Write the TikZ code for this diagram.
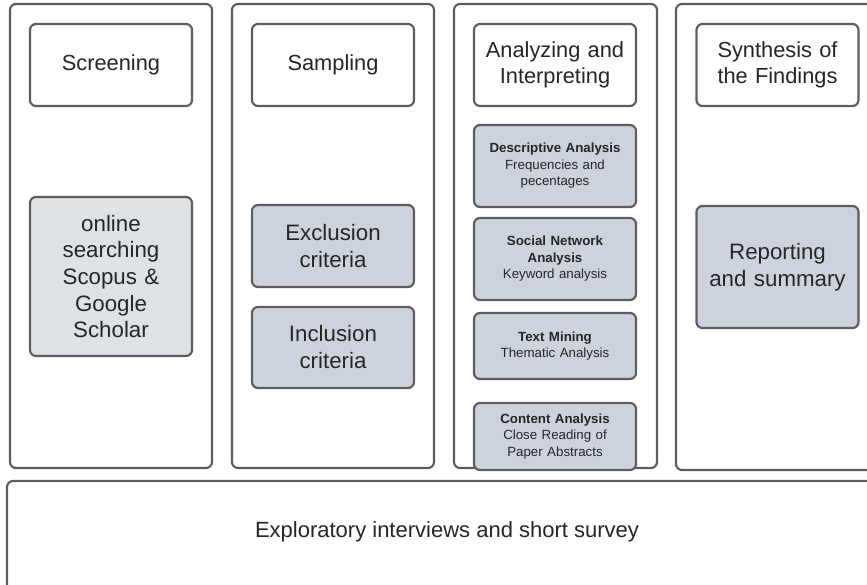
\documentclass[tikz,border=0pt]{standalone}
\usepackage{fontspec}
\setmainfont{Liberation Sans}
\definecolor{edgegray}{HTML}{5E5E5E}
\definecolor{taskgray}{HTML}{CDD3DC}
\definecolor{searchgray}{HTML}{DEE1E6}
\tikzset{
  panel/.style={draw=edgegray, line width=2.2pt, rounded corners=6pt,
    fill=white, inner sep=0pt},
  stage/.style={panel, minimum width=162pt, minimum height=82pt,
    text width=158pt, align=center, font=\fontsize{21.8}{26}\selectfont,
    text=black!85},
  task/.style={stage, fill=taskgray, font=\fontsize{22.3}{27}\selectfont},
  method/.style={stage, fill=taskgray, font=\fontsize{13.3}{16.5}\selectfont}
}
\begin{document}
\begin{tikzpicture}[yscale=-1, x=1pt, y=1pt]
    \useasboundingbox (0,0) rectangle (867,585);
    \clip (0,0) rectangle (867,585);

    % the four columns and the bottom band
    \node[panel, minimum width=202pt, minimum height=464pt] (colscreen) at (111,236) {};
    \node[panel, minimum width=202pt, minimum height=464pt] (colsample) at (333,236) {};
    \node[panel, minimum width=203pt, minimum height=464pt] (colanalyze) at (555.5,236) {};
    \node[panel, minimum width=202pt, minimum height=466pt] (colsynth) at (777,237) {};
    \node[panel, minimum width=880pt, minimum height=130pt] (interviews) at (447,546) {};
    \node[font=\fontsize{22}{26}\selectfont, text=black!85] (interviewtext) at (447,532)
      {Exploratory interviews and short survey};

    % stage headers
    \node[stage] (screening) at (111,65) {Screening};
    \node[stage] (sampling) at (333,65) {Sampling};
    \node[stage] (analyzing) at (555,65) {Analyzing and\\Interpreting};
    \node[stage] (synthesis) at (777.5,65) {Synthesis of\\the Findings};

    % screening
    \node[task, fill=searchgray, minimum height=159pt, font=\fontsize{22.3}{26.7}\selectfont]
      (searching) at (111,276.5) {online\\searching\\Scopus \&\\Google\\Scholar};

    % sampling
    \node[task] (exclusion) at (333,246) {Exclusion\\criteria};
    \node[task, minimum height=81pt] (inclusion) at (333,347.5) {Inclusion\\criteria};

    % analyzing
    \node[method] (descriptive) at (555,166)
      {\textbf{Descriptive Analysis}\\Frequencies and\\pecentages};
    \node[method] (network) at (555,259)
      {\textbf{Social Network}\\\textbf{Analysis}\\Keyword analysis};
    \node[method, minimum height=66pt] (textmining) at (555,346)
      {\textbf{Text Mining}\\Thematic Analysis};
    \node[method, minimum height=67pt] (content) at (555,436.5)
      {\raisebox{-3pt}{\parbox{158pt}{\centering\textbf{Content Analysis}\\Close Reading of\\Paper Abstracts}}};

    % synthesis
    \node[task, minimum height=122pt] (reporting) at (777.5,267) {Reporting\\and summary};
  \end{tikzpicture}
\end{document}
